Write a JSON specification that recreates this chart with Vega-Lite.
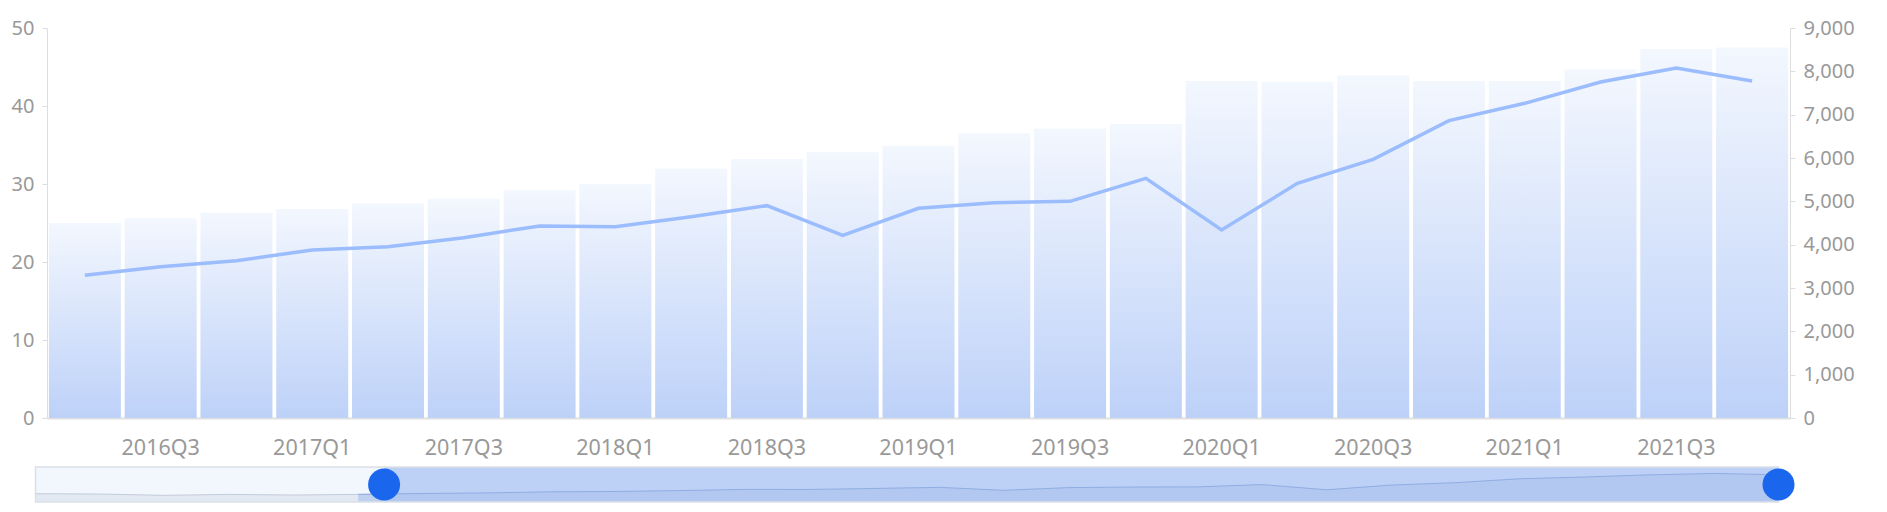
{
  "$schema": "https://vega.github.io/schema/vega-lite/v6.json",
  "background": "white",
  "padding": {"left": 11, "top": 18, "right": 0, "bottom": 0},
  "spacing": 7,
  "config": {
    "view": {"stroke": null},
    "font": "Noto Sans",
    "axis": {
      "labelFont": "Noto Sans",
      "labelFontSize": 20,
      "labelColor": "#999999",
      "domainColor": "#dddddd",
      "tickColor": "#dddddd",
      "tickSize": 5,
      "labelPadding": 8,
      "grid": false,
      "title": null
    }
  },
  "datasets": {
    "quarters": [
      {"idx": 0, "q": "2015Q1", "bar": null, "line": 3450},
      {"idx": 1, "q": "2015Q2", "bar": null, "line": 3370},
      {"idx": 2, "q": "2015Q3", "bar": null, "line": 3070},
      {"idx": 3, "q": "2015Q4", "bar": null, "line": 3290},
      {"idx": 4, "q": "2016Q1", "bar": null, "line": 3140},
      {"idx": 5, "q": "2016Q2", "bar": 25.0, "line": 3293},
      {"idx": 6, "q": "2016Q3", "bar": 25.6, "line": 3492},
      {"idx": 7, "q": "2016Q4", "bar": 26.3, "line": 3630},
      {"idx": 8, "q": "2017Q1", "bar": 26.8, "line": 3877},
      {"idx": 9, "q": "2017Q2", "bar": 27.5, "line": 3954},
      {"idx": 10, "q": "2017Q3", "bar": 28.1, "line": 4162},
      {"idx": 11, "q": "2017Q4", "bar": 29.2, "line": 4431},
      {"idx": 12, "q": "2018Q1", "bar": 30.0, "line": 4415},
      {"idx": 13, "q": "2018Q2", "bar": 32.0, "line": 4646},
      {"idx": 14, "q": "2018Q3", "bar": 33.2, "line": 4900},
      {"idx": 15, "q": "2018Q4", "bar": 34.1, "line": 4216},
      {"idx": 16, "q": "2019Q1", "bar": 34.9, "line": 4839},
      {"idx": 17, "q": "2019Q2", "bar": 36.5, "line": 4969},
      {"idx": 18, "q": "2019Q3", "bar": 37.1, "line": 5000},
      {"idx": 19, "q": "2019Q4", "bar": 37.7, "line": 5531},
      {"idx": 20, "q": "2020Q1", "bar": 43.2, "line": 4338},
      {"idx": 21, "q": "2020Q2", "bar": 43.1, "line": 5416},
      {"idx": 22, "q": "2020Q3", "bar": 43.9, "line": 5970},
      {"idx": 23, "q": "2020Q4", "bar": 43.2, "line": 6862},
      {"idx": 24, "q": "2021Q1", "bar": 43.2, "line": 7262},
      {"idx": 25, "q": "2021Q2", "bar": 44.7, "line": 7754},
      {"idx": 26, "q": "2021Q3", "bar": 47.3, "line": 8077},
      {"idx": 27, "q": "2021Q4", "bar": 47.5, "line": 7777}
    ],
    "window": [{"from": 5.4, "to": 27}],
    "handles": [{"pos": 5.4}, {"pos": 27}]
  },
  "vconcat": [
    {
      "width": 1743,
      "height": 390,
      "data": {"name": "quarters"},
      "transform": [{"filter": "datum.idx >= 5"}],
      "encoding": {
        "x": {
          "field": "q",
          "type": "ordinal",
          "sort": null,
          "scale": {"paddingInner": 0.05, "paddingOuter": 0.025},
          "axis": {
            "values": ["2016Q3", "2017Q1", "2017Q3", "2018Q1", "2018Q3", "2019Q1", "2019Q3", "2020Q1", "2020Q3", "2021Q1", "2021Q3"],
            "labelAngle": 0,
            "labelFontSize": 21.5,
            "ticks": false,
            "domainColor": "#e0e0e0",
            "domainWidth": 2,
            "labelPadding": 19
          }
        }
      },
      "layer": [
        {
          "mark": {
            "type": "bar",
            "fill": {
              "gradient": "linear",
              "x1": 0, "y1": 0, "x2": 0, "y2": 1,
              "stops": [
                {"offset": 0, "color": "#f3f7fe"},
                {"offset": 1, "color": "#bdd1f8"}
              ]
            }
          },
          "encoding": {
            "y": {
              "field": "bar",
              "type": "quantitative",
              "scale": {"domain": [0, 50], "nice": false},
              "axis": {"values": [0, 10, 20, 30, 40, 50]}
            }
          }
        },
        {
          "mark": {"type": "line", "color": "#9bbcfd", "strokeWidth": 3.5},
          "encoding": {
            "y": {
              "field": "line",
              "type": "quantitative",
              "scale": {"domain": [0, 9000], "nice": false},
              "axis": {"orient": "right", "format": ",d", "values": [0, 1000, 2000, 3000, 4000, 5000, 6000, 7000, 8000, 9000]}
            }
          }
        }
      ],
      "resolve": {"scale": {"y": "independent"}}
    },
    {
      "width": 1743,
      "height": 35,
      "layer": [
        {
          "data": {"name": "quarters"},
          "mark": {"type": "rect", "fill": "#f2f6fd"},
          "encoding": {
            "x": {"aggregate": "min", "field": "idx", "type": "quantitative", "scale": {"domain": [0.178, 27.178], "nice": false, "zero": false}, "axis": null},
            "x2": {"aggregate": "max", "field": "idx"}
          }
        },
        {
          "data": {"name": "quarters"},
          "mark": {"type": "area", "fill": "#dde4ee", "line": {"color": "#c3ccda", "strokeWidth": 1}},
          "encoding": {
            "x": {"field": "idx", "type": "quantitative"},
            "y": {"field": "line", "type": "quantitative", "scale": {"domain": [1550, 9550], "nice": false, "zero": false, "clamp": true}, "axis": null}
          }
        },
        {
          "data": {"name": "window"},
          "mark": {"type": "rect", "fill": "#bdd1f7"},
          "encoding": {
            "x": {"field": "from", "type": "quantitative"},
            "x2": {"field": "to"}
          }
        },
        {
          "data": {"name": "quarters"},
          "transform": [{"filter": "datum.idx >= 5"}],
          "mark": {"type": "area", "fill": "#aec5ee", "line": {"color": "#90ade2", "strokeWidth": 1}},
          "encoding": {
            "x": {"field": "idx", "type": "quantitative"},
            "y": {"field": "line", "type": "quantitative"}
          }
        },
        {
          "data": {"name": "quarters"},
          "mark": {"type": "rect", "fill": null, "stroke": "#dcdfe6", "strokeWidth": 1.5},
          "encoding": {
            "x": {"aggregate": "min", "field": "idx", "type": "quantitative"},
            "x2": {"aggregate": "max", "field": "idx"}
          }
        },
        {
          "data": {"name": "handles"},
          "mark": {"type": "point", "shape": "circle", "filled": true, "size": 1024, "color": "#1a67ee", "opacity": 1},
          "encoding": {
            "x": {"field": "pos", "type": "quantitative"}
          }
        }
      ]
    }
  ]
}
